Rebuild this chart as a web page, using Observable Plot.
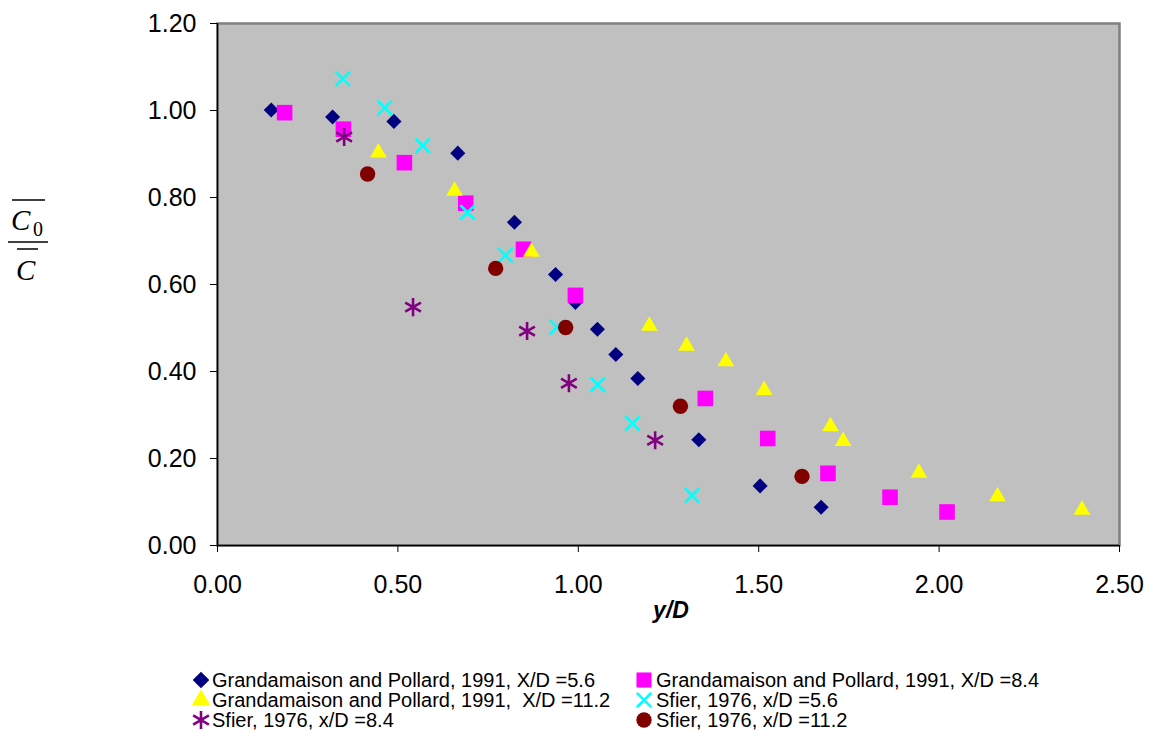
<!DOCTYPE html>
<html><head><meta charset="utf-8">
<script src="https://cdn.jsdelivr.net/npm/d3@7"></script>
<script src="https://cdn.jsdelivr.net/npm/@observablehq/plot@0.6"></script>
<style>
body{margin:0;background:#fff;font-family:Arial,"Liberation Sans",sans-serif;}
#wrap{position:relative;width:1154px;height:733px;overflow:hidden;}
#chart{position:absolute;left:0;top:0;}
#ylab{position:absolute;left:0;top:0;}
#legend{position:absolute;left:0;top:660px;}
</style></head><body>
<div id="wrap">
<div id="chart"></div>
<svg id="ylab" width="60" height="300">
  <line x1="12" x2="45" y1="200" y2="200" stroke="#000" stroke-width="1.5"/>
  <text x="11" y="230" font-family="'Times New Roman','Liberation Serif',serif" font-style="italic" font-size="29">C</text>
  <text x="33" y="236" font-family="'Times New Roman','Liberation Serif',serif" font-size="20">0</text>
  <line x1="8" x2="48" y1="242" y2="242" stroke="#000" stroke-width="1.5"/>
  <line x1="17" x2="38" y1="249" y2="249" stroke="#000" stroke-width="1.5"/>
  <text x="16" y="280" font-family="'Times New Roman','Liberation Serif',serif" font-style="italic" font-size="29">C</text>
</svg>
<svg id="legend" width="1154" height="73"></svg>
</div>
<script>
// ---- data ----
const seriesNames = [
  "Grandamaison and Pollard, 1991, X/D =5.6",
  "Grandamaison and Pollard, 1991, X/D =8.4",
  "Grandamaison and Pollard, 1991,  X/D =11.2",
  "Sfier, 1976, x/D =5.6",
  "Sfier, 1976, x/D =8.4",
  "Sfier, 1976, x/D =11.2"
];
const gp56X = [0.149, 0.319, 0.489, 0.666, 0.823, 0.937, 0.992, 1.053, 1.104, 1.165, 1.334, 1.504, 1.673];
const gp56Y = [1.001, 0.985, 0.975, 0.902, 0.743, 0.623, 0.559, 0.497, 0.439, 0.384, 0.243, 0.137, 0.088];
const gp84X = [0.186, 0.349, 0.518, 0.688, 0.848, 0.992, 1.352, 1.525, 1.692, 1.864, 2.022];
const gp84Y = [0.995, 0.957, 0.880, 0.787, 0.681, 0.575, 0.338, 0.246, 0.166, 0.111, 0.077];
const gp112X = [0.446, 0.657, 0.870, 1.197, 1.300, 1.409, 1.515, 1.699, 1.734, 1.944, 2.162, 2.396];
const gp112Y = [0.903, 0.815, 0.675, 0.505, 0.459, 0.423, 0.357, 0.274, 0.240, 0.167, 0.113, 0.082];
const sf56X = [0.347, 0.464, 0.569, 0.693, 0.798, 0.941, 1.054, 1.150, 1.315];
const sf56Y = [1.073, 1.006, 0.919, 0.766, 0.667, 0.502, 0.370, 0.281, 0.115];
const sf84X = [0.351, 0.542, 0.858, 0.974, 1.213];
const sf84Y = [0.939, 0.548, 0.493, 0.373, 0.242];
const sf112X = [0.416, 0.771, 0.965, 1.283, 1.620];
const sf112Y = [0.854, 0.637, 0.501, 0.320, 0.159];
const xTicks = [0, 0.5, 1.0, 1.5, 2.0, 2.5];
const yTicks = [0, 0.2, 0.4, 0.6, 0.8, 1.0, 1.2];
const xLabel = "y/D";

// ---- styles ----
const styles = [
  {symbol: "diamond2", d3s: d3.symbolDiamond2, color: "#000080", r: 6.8, lr: 7.5, filled: true},
  {symbol: "square", d3s: d3.symbolSquare, color: "#FF00FF", r: 8.8, lr: 8.5, filled: true},
  {symbol: "triangle", d3s: d3.symbolTriangle, color: "#FFFF00", r: 6.2, lr: 6.8, filled: true},
  {symbol: "times", d3s: d3.symbolTimes, color: "#00FFFF", r: 6.6, lr: 6.6, filled: false},
  {symbol: "asterisk", d3s: d3.symbolAsterisk, color: "#800080", r: 8.6, lr: 8.6, filled: false},
  {symbol: "circle", d3s: d3.symbolCircle, color: "#800000", r: 7.7, lr: 7.7, filled: true}
];
const xs = [gp56X, gp84X, gp112X, sf56X, sf84X, sf112X];
const ys = [gp56Y, gp84Y, gp112Y, sf56Y, sf84Y, sf112Y];
const tables = xs.map((xa, i) => xa.map((x, j) => ({x, y: ys[i][j], series: seriesNames[i]})));

const dotMarks = tables.map((t, i) => {
  const s = styles[i];
  return Plot.dot(t, {
    x: "x", y: "y", symbol: s.symbol, r: s.r,
    fill: s.filled ? s.color : "none",
    stroke: s.filled ? "none" : s.color,
    strokeWidth: s.filled ? 0 : 2.6
  });
});

const chart = Plot.plot({
  width: 1154, height: 630,
  marginLeft: 217, marginRight: 35, marginTop: 23, marginBottom: 85,
  style: {fontFamily: "Arial, 'Liberation Sans', sans-serif", background: "transparent"},
  x: {domain: [0, 2.5]},
  y: {domain: [0, 1.2]},
  marks: [
    Plot.frame({fill: "#c0c0c0", stroke: "none"}),
    Plot.frame({stroke: "#808080", strokeWidth: 2.5}),
    Plot.ruleX([0], {stroke: "#000", strokeWidth: 1.5}),
    Plot.ruleY([0], {stroke: "#000", strokeWidth: 1.5}),
    Plot.axisX({ticks: xTicks, tickFormat: d3.format(".2f"), tickSize: 7, tickPadding: 23, fontSize: 25, label: null, stroke: "#000", color: "#000"}),
    Plot.axisY({ticks: yTicks, tickFormat: d3.format(".2f"), tickSize: 7, tickPadding: 14, fontSize: 25, label: null, stroke: "#000", color: "#000"}),
    ...dotMarks
  ]
});
document.getElementById("chart").appendChild(chart);

// x-axis title (real text in the svg)
const svgSel = d3.select(chart.tagName.toLowerCase() === "svg" ? chart : chart.querySelector("svg"));
svgSel.append("text")
  .attr("x", 671).attr("y", 618)
  .attr("text-anchor", "middle")
  .attr("font-size", 23).attr("font-weight", "bold").attr("font-style", "italic")
  .attr("font-family", "Arial, 'Liberation Sans', sans-serif")
  .text(xLabel);

// ---- legend ----
const leg = d3.select("#legend");
const colX = [201, 644], txtX = [212, 656];
const rowY = [20, 40, 60];
seriesNames.forEach((name, i) => {
  const s = styles[i];
  const col = i % 2, row = Math.floor(i / 2);
  const cx = colX[col], cy = rowY[row];
  leg.append("path")
    .attr("transform", `translate(${cx},${cy})`)
    .attr("d", d3.symbol(s.d3s, s.lr * s.lr * Math.PI)())
    .attr("fill", s.filled ? s.color : "none")
    .attr("stroke", s.filled ? "none" : s.color)
    .attr("stroke-width", s.filled ? 0 : 2.6);
  leg.append("text")
    .attr("x", txtX[col]).attr("y", cy)
    .attr("dy", "0.35em")
    .attr("font-size", 20)
    .attr("font-family", "Arial, 'Liberation Sans', sans-serif")
    .attr("xml:space", "preserve")
    .style("white-space", "pre")
    .text(name);
});
</script>
</body></html>
